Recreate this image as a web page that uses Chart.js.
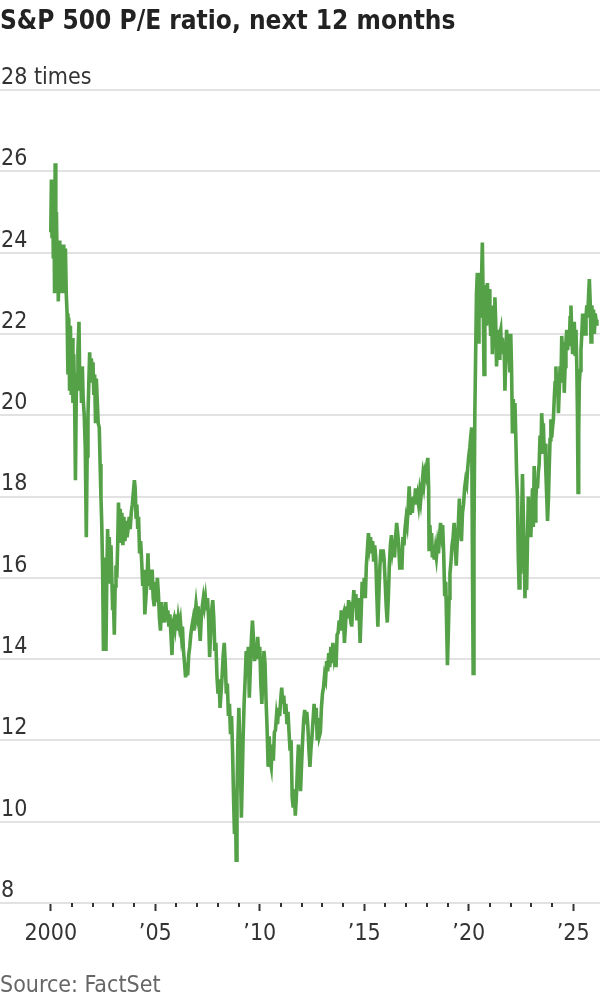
<!DOCTYPE html>
<html>
<head>
<meta charset="utf-8">
<script src="https://cdn.jsdelivr.net/npm/chart.js@4"></script>
<style>
  html, body { margin: 0; padding: 0; background: #fff; }
  #wrap { position: relative; width: 600px; height: 1000px; overflow: hidden; }
  #chart { position: absolute; left: 0; top: 0; }
  #title {
    position: absolute; left: 0; top: 5px;
    font: bold 26px "Liberation Sans Narrow", "DejaVu Sans Condensed", Roboto, sans-serif;
    color: #222;
  }
  #source {
    position: absolute; left: 0; top: 971px;
    font: 23px "Liberation Sans Narrow", "DejaVu Sans Condensed", Roboto, sans-serif;
    color: #666;
  }
</style>
</head>
<body>
<div id="wrap">
  <canvas id="chart" width="600" height="1000"></canvas>
  <div id="title">S&amp;P 500 P/E ratio, next 12 months</div>
  <div id="source">Source: FactSet</div>
</div>
<script>
// forward P/E (decimal years)
const dates = [
  2000.00, 2000.03, 2000.06, 2000.09, 2000.12, 2000.15, 2000.18, 2000.21, 2000.24, 2000.27, 2000.30, 2000.33, 2000.36, 2000.40, 2000.43, 2000.47, 2000.50, 2000.54, 2000.58, 2000.62, 2000.66, 2000.70, 2000.74, 2000.78, 2000.82, 2000.86, 2000.90, 2000.94, 2000.98,
  2001.02, 2001.06, 2001.10, 2001.14, 2001.18, 2001.22, 2001.26, 2001.30, 2001.35, 2001.39, 2001.43, 2001.47, 2001.51, 2001.55, 2001.60, 2001.65, 2001.70, 2001.74, 2001.78, 2001.82, 2001.86, 2001.90, 2001.94, 2001.98,
  2002.02, 2002.06, 2002.10, 2002.14, 2002.18, 2002.22, 2002.27, 2002.32, 2002.36, 2002.40, 2002.44, 2002.48, 2002.52, 2002.56, 2002.60, 2002.64, 2002.68, 2002.72, 2002.76, 2002.80, 2002.84, 2002.88, 2002.92, 2002.96,
  2003.00, 2003.04, 2003.08, 2003.12, 2003.16, 2003.20, 2003.24, 2003.28, 2003.32, 2003.36, 2003.40, 2003.45, 2003.50, 2003.55, 2003.60, 2003.65, 2003.70, 2003.75, 2003.80, 2003.85, 2003.90, 2003.95,
  2004.00, 2004.04, 2004.08, 2004.12, 2004.16, 2004.20, 2004.25, 2004.30, 2004.35, 2004.40, 2004.45, 2004.50, 2004.55, 2004.60, 2004.65, 2004.70, 2004.75, 2004.80, 2004.85, 2004.90, 2004.95,
  2005.00, 2005.05, 2005.10, 2005.15, 2005.20, 2005.25, 2005.30, 2005.35, 2005.40, 2005.45, 2005.50, 2005.55, 2005.60, 2005.65, 2005.70, 2005.75, 2005.80, 2005.85, 2005.90, 2005.95,
  2006.00, 2006.05, 2006.10, 2006.15, 2006.20, 2006.25, 2006.30, 2006.35, 2006.40, 2006.45, 2006.50, 2006.55, 2006.60, 2006.65, 2006.70, 2006.75, 2006.80, 2006.85, 2006.90, 2006.95,
  2007.00, 2007.05, 2007.10, 2007.15, 2007.20, 2007.25, 2007.30, 2007.35, 2007.40, 2007.45, 2007.50, 2007.55, 2007.60, 2007.65, 2007.70, 2007.75, 2007.80, 2007.85, 2007.90, 2007.95,
  2008.00, 2008.05, 2008.10, 2008.15, 2008.20, 2008.25, 2008.30, 2008.35, 2008.40, 2008.45, 2008.50, 2008.55, 2008.60, 2008.65, 2008.70, 2008.75, 2008.79, 2008.83, 2008.87, 2008.91, 2008.95,
  2009.00, 2009.04, 2009.08, 2009.12, 2009.16, 2009.20, 2009.25, 2009.30, 2009.35, 2009.40, 2009.45, 2009.50, 2009.55, 2009.60, 2009.65, 2009.70, 2009.75, 2009.80, 2009.85, 2009.90, 2009.95,
  2010.00, 2010.05, 2010.10, 2010.15, 2010.20, 2010.25, 2010.30, 2010.35, 2010.40, 2010.45, 2010.50, 2010.55, 2010.60, 2010.65, 2010.70, 2010.75, 2010.80, 2010.85, 2010.90, 2010.95,
  2011.00, 2011.05, 2011.10, 2011.15, 2011.20, 2011.25, 2011.30, 2011.35, 2011.40, 2011.45, 2011.50, 2011.55, 2011.60, 2011.65, 2011.70, 2011.75, 2011.80, 2011.85, 2011.90, 2011.95,
  2012.00, 2012.05, 2012.10, 2012.15, 2012.20, 2012.25, 2012.30, 2012.35, 2012.40, 2012.45, 2012.50, 2012.55, 2012.60, 2012.65, 2012.70, 2012.75, 2012.80, 2012.85, 2012.90, 2012.95,
  2013.00, 2013.05, 2013.10, 2013.15, 2013.20, 2013.25, 2013.30, 2013.35, 2013.40, 2013.45, 2013.50, 2013.55, 2013.60, 2013.65, 2013.70, 2013.75, 2013.80, 2013.85, 2013.90, 2013.95,
  2014.00, 2014.05, 2014.10, 2014.15, 2014.20, 2014.25, 2014.30, 2014.35, 2014.40, 2014.45, 2014.50, 2014.55, 2014.60, 2014.65, 2014.70, 2014.75, 2014.80, 2014.85, 2014.90, 2014.95,
  2015.00, 2015.05, 2015.10, 2015.15, 2015.20, 2015.25, 2015.30, 2015.35, 2015.40, 2015.45, 2015.50, 2015.55, 2015.60, 2015.65, 2015.70, 2015.75, 2015.80, 2015.85, 2015.90, 2015.95,
  2016.00, 2016.05, 2016.10, 2016.15, 2016.20, 2016.25, 2016.30, 2016.35, 2016.40, 2016.45, 2016.50, 2016.55, 2016.60, 2016.65, 2016.70, 2016.75, 2016.80, 2016.85, 2016.90, 2016.95,
  2017.00, 2017.05, 2017.10, 2017.15, 2017.20, 2017.25, 2017.30, 2017.35, 2017.40, 2017.45, 2017.50, 2017.55, 2017.60, 2017.65, 2017.70, 2017.75, 2017.80, 2017.85, 2017.90, 2017.95,
  2018.00, 2018.04, 2018.08, 2018.10, 2018.14, 2018.18, 2018.22, 2018.26, 2018.30, 2018.35, 2018.40, 2018.45, 2018.50, 2018.55, 2018.60, 2018.65, 2018.70, 2018.75, 2018.80, 2018.85, 2018.90, 2018.95, 2018.98,
  2019.02, 2019.06, 2019.10, 2019.15, 2019.20, 2019.25, 2019.30, 2019.35, 2019.40, 2019.45, 2019.50, 2019.55, 2019.60, 2019.65, 2019.70, 2019.75, 2019.80, 2019.85, 2019.90, 2019.95,
  2020.00, 2020.05, 2020.10, 2020.14, 2020.17, 2020.21, 2020.25, 2020.29, 2020.33, 2020.37, 2020.41, 2020.45, 2020.49, 2020.53, 2020.57, 2020.61, 2020.65, 2020.69, 2020.73, 2020.77, 2020.81, 2020.85, 2020.89, 2020.93, 2020.97,
  2021.01, 2021.05, 2021.09, 2021.13, 2021.17, 2021.21, 2021.25, 2021.29, 2021.33, 2021.37, 2021.41, 2021.45, 2021.49, 2021.53, 2021.57, 2021.61, 2021.65, 2021.69, 2021.73, 2021.77, 2021.81, 2021.85, 2021.89, 2021.93, 2021.97,
  2022.01, 2022.05, 2022.09, 2022.13, 2022.17, 2022.21, 2022.25, 2022.29, 2022.33, 2022.37, 2022.41, 2022.45, 2022.49, 2022.53, 2022.57, 2022.61, 2022.65, 2022.69, 2022.73, 2022.77, 2022.81, 2022.85, 2022.89, 2022.93, 2022.97,
  2023.01, 2023.05, 2023.09, 2023.13, 2023.17, 2023.21, 2023.25, 2023.29, 2023.33, 2023.37, 2023.41, 2023.45, 2023.49, 2023.53, 2023.57, 2023.61, 2023.65, 2023.69, 2023.73, 2023.77, 2023.81, 2023.85, 2023.89, 2023.93, 2023.97,
  2024.01, 2024.05, 2024.09, 2024.13, 2024.17, 2024.21, 2024.25, 2024.29, 2024.33, 2024.37, 2024.41, 2024.45, 2024.49, 2024.53, 2024.57, 2024.61, 2024.65, 2024.69, 2024.73, 2024.77, 2024.81, 2024.85, 2024.89, 2024.93, 2024.97,
  2025.01, 2025.05, 2025.09, 2025.13, 2025.17, 2025.20, 2025.23, 2025.26, 2025.29, 2025.33, 2025.37, 2025.41, 2025.45, 2025.49, 2025.53, 2025.57, 2025.61, 2025.65, 2025.69, 2025.73, 2025.77, 2025.81, 2025.85, 2025.89, 2025.93, 2025.97,
  2026.01, 2026.05, 2026.09, 2026.13
];
const pe = [
  24.5, 25.8, 24.4, 25.6, 23.9, 25.2, 23.0, 26.2, 24.0, 25.0, 23.8, 24.2, 22.8, 24.3, 23.2, 24.1, 23.0, 24.2, 23.1, 24.2, 23.0, 24.1, 23.0, 22.5, 21.0, 22.4, 20.6, 22.2, 20.5,
  21.9, 20.3, 21.5, 20.4, 18.4, 20.5, 21.0, 21.6, 22.3, 20.6, 21.2, 20.3, 21.2, 20.4, 20.0, 19.2, 17.0, 19.0, 20.0, 20.8, 21.55, 20.8, 21.4, 21.1,
  21.3, 20.5, 21.0, 19.8, 20.9, 20.4, 19.8, 19.7, 18.8, 18.0, 17.3, 16.2, 14.2, 15.8, 16.5, 14.2, 16.0, 17.2, 16.0, 17.0, 15.9, 16.8, 16.0, 15.2,
  15.4, 14.6, 15.8, 16.3, 16.0, 16.8, 17.85, 17.0, 17.7, 16.9, 17.6, 16.8, 17.5, 16.9, 17.4, 17.0, 17.2, 17.5, 17.2, 17.6, 17.8, 18.1,
  18.4, 18.2, 17.5, 17.8, 17.2, 17.5, 16.6, 16.9, 16.4, 15.8, 16.2, 15.1, 15.5, 15.9, 16.6, 15.8, 16.2, 15.7, 16.2, 15.5, 15.3,
  15.9, 15.4, 16.0, 15.6, 15.0, 14.7, 15.4, 14.9, 15.2, 14.9, 15.4, 15.0, 15.2, 14.8, 15.1, 14.6, 14.1, 14.9, 15.0, 14.8,
  15.1, 14.7, 15.0, 14.8, 14.95, 14.6, 14.8, 14.2, 13.9, 13.55, 13.9, 13.6, 14.1, 14.3, 14.6, 14.8, 14.95, 14.7, 15.1, 15.35,
  15.1, 15.3, 14.9, 14.45, 15.0, 15.3, 15.5, 15.3, 15.5, 15.2, 15.5, 15.0, 14.05, 14.7, 15.2, 15.45, 15.0, 14.2, 14.4, 13.6,
  13.15, 13.5, 12.8, 13.2, 13.6, 14.1, 14.4, 13.9, 13.15, 13.4, 12.6, 12.9, 12.15, 12.6, 11.7, 10.5, 9.7, 10.8, 9.05, 10.6, 11.9,
  12.8, 12.0, 11.2, 10.1, 11.0, 12.0, 12.9, 13.5, 14.2, 13.6, 14.3, 13.05, 13.8, 14.5, 14.95, 14.5, 13.95, 14.4, 14.0, 14.55, 14.1,
  14.3, 13.4, 12.9, 13.6, 14.2, 13.9, 13.0, 12.3, 11.35, 12.1, 11.5, 11.35, 11.9, 11.5, 12.2, 12.25, 12.6, 12.4, 12.8, 12.6,
  13.0, 13.3, 12.9, 13.1, 12.65, 12.9, 12.4, 12.7, 12.2, 11.75, 12.0, 10.6, 10.35, 10.8, 10.15, 10.6, 11.3, 11.9, 11.2, 10.75,
  11.4, 12.0, 12.5, 12.75, 12.4, 12.7, 12.35, 11.8, 11.35, 11.8, 12.1, 12.5, 12.9, 12.4, 12.8, 12.0, 12.55, 12.1, 12.2, 12.8,
  13.15, 13.3, 13.6, 13.5, 13.95, 13.7, 14.15, 13.8, 14.3, 13.9, 14.4, 14.1, 14.3, 13.8, 14.6, 14.65, 14.95, 14.7, 15.2, 15.0,
  15.1, 14.4, 14.8, 15.3, 15.0, 15.45, 15.2, 15.4, 14.8, 15.3, 15.7, 15.3, 15.6, 14.95, 15.5, 15.2, 14.4, 15.1, 15.9, 15.5,
  16.0, 15.5, 16.3, 16.7, 17.1, 16.8, 17.0, 16.6, 16.9, 16.4, 16.8, 16.5, 15.6, 14.8, 15.6, 16.3, 16.7, 16.4, 16.7, 16.45,
  15.9, 15.3, 14.9, 15.5, 16.3, 16.8, 17.05, 16.7, 16.9, 16.5, 17.0, 17.35, 17.1, 16.8, 16.2, 16.5, 16.2, 17.0, 16.8, 17.2,
  17.45, 17.3, 17.7, 18.25, 17.55, 17.9, 17.6, 18.0, 17.8, 18.2, 17.8, 18.0, 17.8, 18.1, 17.9, 18.2, 18.5, 18.3, 18.6, 18.5,
  18.8, 18.95, 18.2, 16.7, 17.3, 16.8, 17.1, 16.5, 16.8, 16.45, 16.7, 16.5, 16.8, 16.6, 17.0, 17.35, 17.1, 17.3, 16.6, 15.55, 15.9, 14.6, 13.85,
  14.6, 15.5, 16.1, 16.4, 16.8, 17.0, 17.35, 16.8, 16.3, 16.9, 17.3, 17.95, 17.3, 16.9, 17.6, 17.8, 18.2, 18.4, 18.3, 18.7,
  19.0, 19.2, 19.5, 19.7, 17.0, 13.65, 17.0, 20.0, 21.5, 23.0, 23.5, 21.8, 22.9, 23.5, 22.4, 23.3, 24.25, 22.8, 21.0, 22.5, 23.2, 22.2, 23.25, 22.6, 23.1,
  22.5, 21.95, 22.7, 21.5, 22.3, 21.8, 22.9, 22.3, 21.2, 21.8, 22.1, 21.4, 22.0, 22.1, 21.6, 21.9, 21.5, 21.8, 20.6, 21.3, 22.1, 21.7, 22.0, 21.5, 21.05,
  22.0, 21.1, 19.55, 20.4, 19.6, 20.3, 19.5, 18.55, 18.0, 16.5, 15.75, 16.9, 16.1, 17.5, 18.55, 17.6, 16.8, 15.5, 16.6, 15.7, 16.9, 18.0, 17.4, 17.25, 17.0,
  17.6, 18.2, 17.25, 18.75, 17.4, 17.9, 18.4, 18.2, 18.6, 18.8, 19.5, 19.05, 20.05, 19.6, 19.8, 19.05, 19.3, 18.6, 18.0, 17.4, 17.9, 18.7, 19.4, 19.9, 19.45,
  19.7, 19.9, 20.4, 20.8, 21.2, 20.55, 21.0, 20.05, 20.6, 21.2, 20.8, 21.95, 21.4, 21.8, 20.55, 21.2, 21.8, 22.1, 21.6, 22.0, 21.7, 22.4, 22.7, 22.0, 21.5,
  22.0, 22.3, 21.5, 22.1, 21.2, 20.05, 18.1, 19.5, 20.8, 21.1, 21.6, 22.0, 22.5, 22.2, 22.5, 22.0, 22.4, 22.7, 22.4, 22.9, 23.35, 22.8, 21.8, 22.7, 22.2, 22.6,
  22.0, 22.5, 22.35, 22.2
];

const yTicks = [8, 10, 12, 14, 16, 18, 20, 22, 24, 26, 28];
const majorYears = [2000, 2005, 2010, 2015, 2020, 2025];
const minorYears = [2001, 2002, 2003, 2004, 2006, 2007, 2008, 2009, 2011, 2012, 2013, 2014,
  2016, 2017, 2018, 2019, 2021, 2022, 2023, 2024];

const labelFont = { family: '"Liberation Sans Narrow", "DejaVu Sans Condensed", Roboto, sans-serif', size: 23 };

// short minor year ticks under the axis
const minorTicks = {
  id: 'minorTicks',
  afterDraw(chart) {
    const ctx = chart.ctx;
    const x = chart.scales.x;
    const bottom = chart.chartArea.bottom;
    ctx.save();
    ctx.strokeStyle = '#333';
    ctx.lineWidth = 2;
    minorYears.forEach(yr => {
      const px = Math.round(x.getPixelForValue(yr));
      ctx.beginPath();
      ctx.moveTo(px, bottom);
      ctx.lineTo(px, bottom + 4);
      ctx.stroke();
    });
    ctx.restore();
  }
};

new Chart(document.getElementById('chart'), {
  type: 'line',
  data: {
    datasets: [{
      data: dates.map((d, i) => ({ x: d, y: pe[i] })),
      borderColor: '#54a147',
      borderWidth: 3.6,
      pointRadius: 0,
      tension: 0
    }]
  },
  options: {
    responsive: false,
    animation: false,
    events: [],
    layout: { padding: { top: 90, right: 0, bottom: 37, left: 0 } },
    plugins: { legend: { display: false }, tooltip: { enabled: false } },
    scales: {
      x: {
        type: 'linear',
        min: 1997.57,
        max: 2026.28,
        afterFit: s => { s.height = 60; },
        afterBuildTicks: s => { s.ticks = majorYears.map(v => ({ value: v })); },
        grid: { drawOnChartArea: false, drawTicks: true, tickLength: 8, tickColor: '#333', tickWidth: 2 },
        border: { display: false },
        ticks: {
          color: '#333',
          font: labelFont,
          padding: 9,
          maxRotation: 0,
          autoSkip: false,
          callback: v => v === 2000 ? '2000' : '\u2019' + String(v).slice(2)
        }
      },
      y: {
        min: 8,
        max: 28,
        afterFit: s => { s.width = 0; },
        afterBuildTicks: s => { s.ticks = yTicks.map(v => ({ value: v })); },
        grid: { color: '#e2e2e2', lineWidth: 2, drawTicks: false },
        border: { display: false },
        ticks: {
          mirror: true,
          padding: 1,
          labelOffset: -12,
          color: '#333',
          font: labelFont,
          callback: v => v === 28 ? '28 times' : String(v)
        }
      }
    }
  },
  plugins: [minorTicks]
});
</script>
</body>
</html>
